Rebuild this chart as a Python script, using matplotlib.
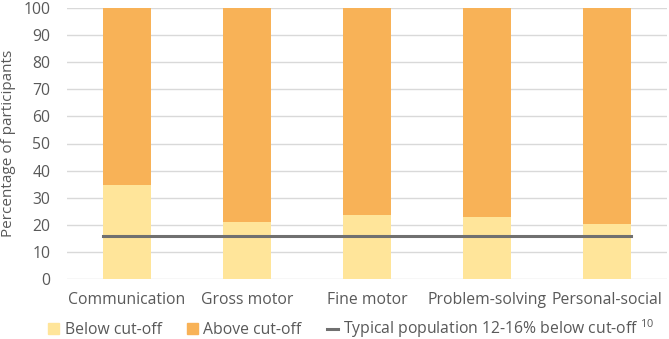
import numpy as np
import matplotlib
matplotlib.use("Agg")
import matplotlib.pyplot as plt
from matplotlib.lines import Line2D
from matplotlib.patches import Patch

plt.rcParams['font.family'] = ['Open Sans', 'DejaVu Sans']
plt.rcParams['mathtext.fontset'] = 'custom'
plt.rcParams['mathtext.rm'] = 'Open Sans'
plt.rcParams['mathtext.it'] = 'Open Sans'

categories = ['Communication', 'Gross motor', 'Fine motor', 'Problem-solving', 'Personal-social']
below_cutoff = [34.8, 21.2, 23.6, 23.0, 20.2]
above_cutoff = [100 - v for v in below_cutoff]
typical_level = 15.7

c_below = '#FFE59A'
c_above = '#F8B257'
c_line = '#707070'
c_text = '#595959'

fig = plt.figure(figsize=(6.69, 3.39), dpi=100)
ax = fig.add_axes([67 / 669, 1 - 279 / 339, 600 / 669, 271 / 339])

x = np.arange(len(categories))
ax.bar(x, below_cutoff, width=0.4, color=c_below, zorder=2)
ax.bar(x, above_cutoff, width=0.4, bottom=below_cutoff, color=c_above, zorder=2)
ax.plot([x[0] - 0.2, x[-1] + 0.2], [typical_level, typical_level], color=c_line, lw=2.2, zorder=3)

ax.set_xlim(-0.5, len(categories) - 0.5)
ax.set_ylim(0, 100)
ax.set_yticks(range(0, 101, 10))
ax.set_xticks(x)
ax.set_xticklabels(categories)
ax.yaxis.grid(True, color='#D9D9D9', lw=1, zorder=0)
for s in ax.spines.values():
    s.set_visible(False)
ax.tick_params(axis='both', length=0, labelsize=11.3, colors=c_text)
ax.tick_params(axis='y', pad=12)
ax.tick_params(axis='x', pad=9)
ax.set_ylabel('Percentage of participants', fontsize=11, color=c_text)
ax.yaxis.set_label_coords(-51 / 600, 0.5)

handles = [Patch(color=c_below), Patch(color=c_above), Line2D([0], [0], color=c_line, lw=2.2)]
labels = ['Below cut-off', 'Above cut-off', 'Typical population 12-16% below cut-off $^{10}$']
fig.legend(handles, labels, loc='center', bbox_to_anchor=(0.525, 0.03), ncol=3,
           frameon=False, fontsize=11.3, handlelength=0.7, handleheight=0.7,
           handletextpad=0.35, columnspacing=1.6, labelcolor=c_text)

fig.savefig('out.png', dpi=100)
